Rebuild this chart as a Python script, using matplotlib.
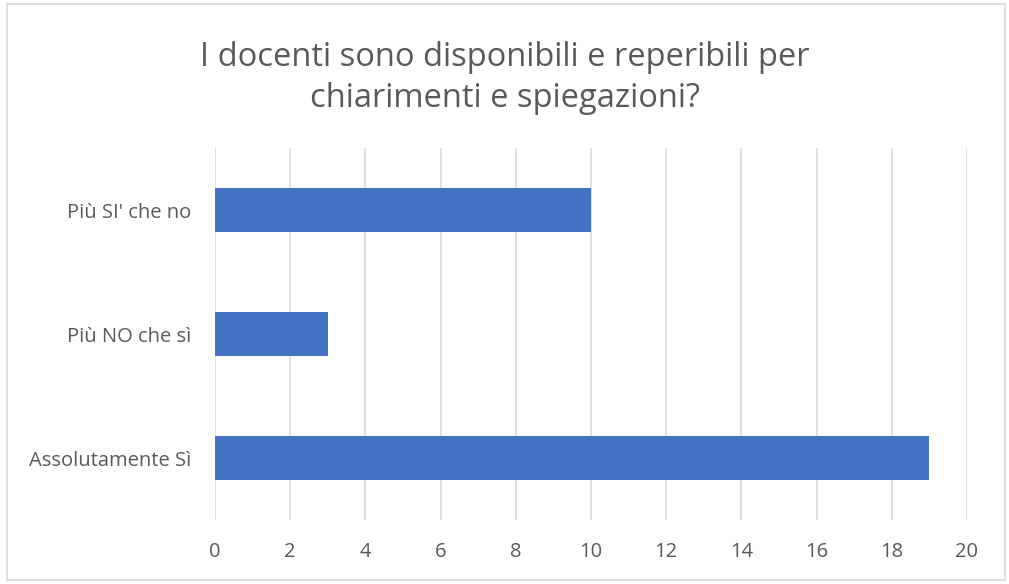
import matplotlib.pyplot as plt
from matplotlib.patches import Rectangle

# Data (bottom to top)
categories = ["Assolutamente Sì", "Più NO che sì", "Più SI' che no"]
values = [19, 3, 10]
x_ticks = [0, 2, 4, 6, 8, 10, 12, 14, 16, 18, 20]
title = "I docenti sono disponibili e reperibili per\nchiarimenti e spiegazioni?"

plt.rcParams['font.family'] = ['Open Sans', 'DejaVu Sans']

fig = plt.figure(figsize=(10.09, 5.84), dpi=100)
fig.patches.append(Rectangle((7 / 1009, 4 / 584), 998 / 1009, 576 / 584,
                             transform=fig.transFigure, fill=False,
                             edgecolor='#d9d9d9', linewidth=1.2))

ax = fig.add_axes([215 / 1009, 1 - 520 / 584, 752 / 1009, 372 / 584])
ax.barh(range(len(categories)), values, height=0.355, color='#4472c4', zorder=3)

ax.set_xlim(0, 20)
ax.set_ylim(-0.5, 2.5)
ax.set_xticks(x_ticks)
ax.set_yticks(range(len(categories)))
ax.set_yticklabels(categories)
ax.grid(axis='x', color='#d9d9d9', linewidth=1.2, zorder=0)
for s in ax.spines.values():
    s.set_visible(False)
ax.tick_params(length=0, colors='#595959', labelsize=14.5)
ax.tick_params(axis='x', pad=16)
ax.tick_params(axis='y', pad=17)

fig.text(505 / 1009, 1 - 78 / 584, title, ha='center', va='center',
         fontsize=23.5, color='#595959', linespacing=1.3)

fig.savefig("out.png", dpi=100)
